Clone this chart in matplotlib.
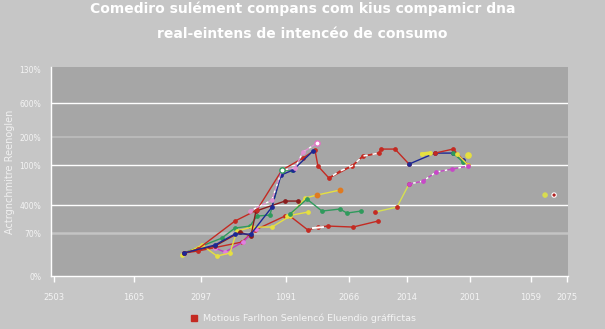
import matplotlib
matplotlib.use("Agg")
import matplotlib.pyplot as plt
from matplotlib.lines import Line2D

# ---- data (x: position on category axis, y: position on value axis) ----
x_ticks = [3, 83, 150, 235, 298, 356, 419, 480, 516]
x_labels = ["2503", "1605", "2097", "1091", "2066", "2014", "2001", "1059", "2075"]
y_ticks = [0, 43, 71, 111, 139, 173, 207]
y_labels = ["0%", "70%", "400%", "100%", "200%", "600%", "130%"]

red_up_x = [133, 147, 184, 206, 231, 252, 264, 267, 278, 301, 312, 328, 330, 344, 358]
red_up_y = [23, 27, 55, 66, 106, 118, 126, 110, 98, 110, 120, 123, 127, 127, 112]
red_dash_x = [278, 289, 301, 312, 328]
red_dash_y = [98, 105, 110, 120, 123]

blue_x = [133, 164, 184, 200, 221, 230, 242, 262]
blue_y = [23, 31, 42, 42, 69, 101, 106, 125]

maroon_x = [133, 164, 189, 200, 205, 234, 247]
maroon_y = [23, 30, 44, 40, 65, 75, 75]

pink_x = [199, 221, 231, 244, 252, 266]
pink_y = [65, 76, 106, 108, 124, 133]

green1_x = [133, 171, 184, 199, 206, 219, 231, 241]
green1_y = [23, 38, 48, 50, 60, 61, 106, 106]

green2_x = [239, 256, 271, 289, 296, 310]
green2_y = [62, 77, 65, 67, 63, 65]

yellow1_x = [131, 151, 166, 179, 186, 201, 221, 239, 254, 266, 289]
yellow1_y = [21, 31, 20, 23, 45, 49, 49, 60, 78, 81, 86]

yellow2_x = [236, 257]
yellow2_y = [60, 64]

red_low_x = [133, 147, 191, 204, 234, 239, 257, 267, 277, 302, 327]
red_low_y = [23, 25, 34, 46, 60, 60, 46, 49, 50, 49, 55]
white_x = [262, 272]
white_y = [48, 49]

magenta_x = [164, 174, 192, 205]
magenta_y = [28, 24, 34, 47]

blue2_x = [358, 384, 402, 412]
blue2_y = [112, 123, 123, 116]
red3_x = [384, 402, 417]
red3_y = [123, 127, 111]
teal_x = [402, 412]
teal_y = [123, 114]
yellow3_x = [371, 379]
yellow3_y = [122, 123]
yellow4_x = [406, 417]
yellow4_y = [122, 111]

lime_x = [324, 346, 358]
lime_y = [64, 69, 92]
late_x = [358, 372, 385, 401, 417]
late_y = [92, 95, 104, 107, 110]

dot_x = [494, 503]
dot_y = [81, 81]
dot_colors = ["#d8dc50", "#b02020"]

title_1 = "Comediro sulément compans com kius compamicr dna"
title_2 = "real-eintens de intencéo de consumo"
y_title = "Actrgnchmitre Reenoglen"
legend_label = "Motious Farlhon Senlencó Eluendio gráffictas"

# ---- figure ----
BG = "#c6c6c6"
AX = "#a6a6a6"
fig = plt.figure(figsize=(6.05, 3.29), dpi=100, facecolor=BG)
ax = fig.add_axes([0.084, 0.161, 0.855, 0.635], facecolor=AX)
ax.set_xlim(0, 517)
ax.set_ylim(0, 209)

for yv, c, lw in [(173, "white", 1.0), (111, "white", 1.0), (71, "white", 1.0),
                  (139, "#bdbdbd", 1.2), (43, "#c4c4c4", 1.8)]:
    ax.axhline(yv, color=c, lw=lw, zorder=1)

def line(x, y, color, mcolor=None, lw=1.0, ms=2.4, z=3, **kw):
    ax.plot(x, y, color=color, lw=lw, marker="o", ms=ms,
            mfc=mcolor or color, mec=mcolor or color, zorder=z, **kw)

line(red_low_x, red_low_y, "#c42a22", "#c42a22")
line(white_x, white_y, "white", ms=0, lw=1.4, z=4)
line(magenta_x, magenta_y, "#c23cc0", "#e080e0")
line(green1_x, green1_y, "#2f9a5c", "#2f9a5c")
line(yellow1_x, yellow1_y, "#e6e040", "#e6e040")
ax.plot([266, 289], [81, 86], ls="none", marker="o", ms=3.2, mfc="#e07a20", mec="#e07a20", zorder=5)
line(yellow2_x, yellow2_y, "#e6e040", "#e6e040")
line(green2_x, green2_y, "#2f9a5c", "#2f9a5c")
line(maroon_x, maroon_y, "#8a1c1c", "#8a1c1c")
line(red_up_x, red_up_y, "#c42a22", "#c42a22")
line(red_dash_x, red_dash_y, "#c42a22", ms=0, lw=1.1, z=4, ls=(0, (3, 3)), gapcolor="white")
line(blue_x, blue_y, "#1c2894", "#1c2894")
line(pink_x, pink_y, "#e090d0", "#e090d0", ls=(0, (3, 2)), gapcolor="white")
ax.plot([266], [133], ls="none", marker="o", ms=3.8, mfc="white", mec="#e070c0", zorder=6)
ax.plot([231], [106], ls="none", marker="o", ms=3.8, mfc="white", mec="#2f9a5c", zorder=6)
line(blue2_x, blue2_y, "#1c2894", "#1c2894")
line(red3_x, red3_y, "#c42a22", "#c42a22")
line(teal_x, teal_y, "#2f9a5c", "#2f9a5c")
line(yellow3_x, yellow3_y, "#e6e040", "#e6e040", lw=2.5)
line(yellow4_x, yellow4_y, "#e6e040", "#e6e040")
ax.plot([417], [121], ls="none", marker="o", ms=3.8, mfc="#e6e040", mec="#e6e040", zorder=5)
line(lime_x, lime_y, "#d6e050", "#c42a22")
line(late_x, late_y, "#c848c8", "#c848c8", ls=(0, (3, 2)), gapcolor="white")
ax.scatter(dot_x, dot_y, s=10, c=dot_colors, edgecolors=["#d8dc50", "white"], linewidths=0.8, zorder=6)

for s in ["top", "right"]:
    ax.spines[s].set_visible(False)
for s in ["left", "bottom"]:
    ax.spines[s].set_color("white")
    ax.spines[s].set_linewidth(1.0)

ax.set_xticks(x_ticks)
ax.set_xticklabels(x_labels)
ax.set_yticks(y_ticks)
ax.set_yticklabels(y_labels)
ax.tick_params(axis="x", colors="white", labelsize=6, length=4, width=1, pad=8, labelcolor="#f4f4f4")
ax.tick_params(axis="y", length=0, labelsize=5.5, pad=7, labelcolor="#f4f4f4")

ax.set_ylabel(y_title, color="#f0f0f0", fontsize=7)
ax.yaxis.set_label_coords(-0.07, 0.5)

fig.text(0.5, 1 - 9 / 329, title_1, ha="center", va="center", color="white",
         fontsize=10, fontweight="bold")
fig.text(0.5, 1 - 34 / 329, title_2, ha="center", va="center", color="white",
         fontsize=10, fontweight="bold")

h = Line2D([], [], ls="none", marker="s", ms=4, mfc="#c42a22", mec="#c42a22")
fig.legend([h], [legend_label], loc="center", bbox_to_anchor=(0.5, 0.033),
           frameon=False, fontsize=6.8, labelcolor="#f4f4f4", handletextpad=0.4,
           handlelength=1.0)

fig.savefig("out.png", dpi=100, facecolor=BG)
